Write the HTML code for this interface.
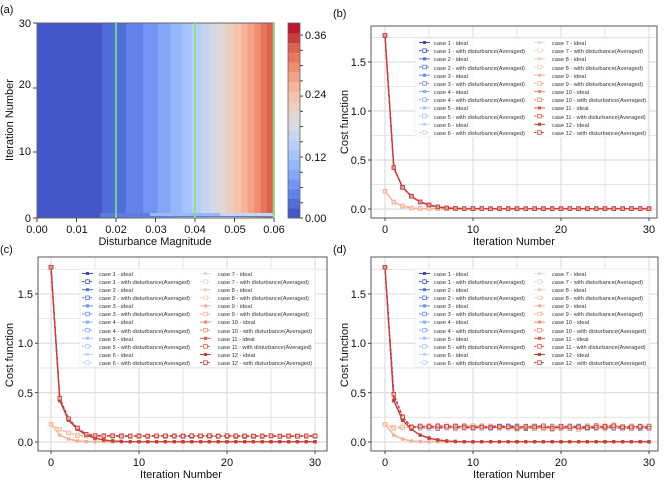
<!DOCTYPE html>
<html><head><meta charset="utf-8">
<style>
html,body{margin:0;padding:0;background:#fff;}
svg{display:block;font-family:"Liberation Sans",Arial,sans-serif;}
.t{font-size:11px;fill:#111;}
.lg{font-size:5.7px;fill:#333;}
</style></head>
<body>
<svg id="s" width="664" height="484" viewBox="0 0 664 484" xmlns="http://www.w3.org/2000/svg">
<g id="heat"></g>
<g id="plots"></g>
<!-- panel a text -->
<text class="t" x="0" y="13" font-size="12">(a)</text>
<text class="t" x="31" y="27" text-anchor="end">30</text>
<text class="t" x="31" y="88" text-anchor="end">20</text>
<text class="t" x="31" y="155" text-anchor="end">10</text>
<text class="t" x="31" y="222" text-anchor="end">0</text>
<text class="t" x="37" y="233" text-anchor="middle">0.00</text>
<text class="t" x="77" y="233" text-anchor="middle">0.01</text>
<text class="t" x="116" y="233" text-anchor="middle">0.02</text>
<text class="t" x="156" y="233" text-anchor="middle">0.03</text>
<text class="t" x="195" y="233" text-anchor="middle">0.04</text>
<text class="t" x="235" y="233" text-anchor="middle">0.05</text>
<text class="t" x="274" y="233" text-anchor="middle">0.06</text>
<text class="t" x="155" y="245" text-anchor="middle">Disturbance Magnitude</text>
<text class="t" x="13" y="120" text-anchor="middle" transform="rotate(-90 13 120)">Iteration Number</text>
<text class="t" x="305" y="39">0.36</text>
<text class="t" x="305" y="98">0.24</text>
<text class="t" x="305" y="161">0.12</text>
<text class="t" x="305" y="222">0.00</text>
<!-- panel b text -->
<text class="t" x="333" y="17" font-size="12">(b)</text>
<text class="t" x="366" y="66" text-anchor="end">1.5</text>
<text class="t" x="366" y="115" text-anchor="end">1.0</text>
<text class="t" x="366" y="164" text-anchor="end">0.5</text>
<text class="t" x="366" y="213" text-anchor="end">0.0</text>
<text class="t" x="385" y="233" text-anchor="middle">0</text>
<text class="t" x="473" y="233" text-anchor="middle">10</text>
<text class="t" x="561" y="233" text-anchor="middle">20</text>
<text class="t" x="649" y="233" text-anchor="middle">30</text>
<text class="t" x="514" y="245" text-anchor="middle">Iteration Number</text>
<text class="t" x="348" y="122" text-anchor="middle" transform="rotate(-90 348 122)">Cost function</text>
<!-- panel c text -->
<text class="t" x="0" y="253" font-size="12">(c)</text>
<text class="t" x="33" y="298" text-anchor="end">1.5</text>
<text class="t" x="33" y="347" text-anchor="end">1.0</text>
<text class="t" x="33" y="397" text-anchor="end">0.5</text>
<text class="t" x="33" y="446" text-anchor="end">0.0</text>
<text class="t" x="51" y="466" text-anchor="middle">0</text>
<text class="t" x="139" y="466" text-anchor="middle">10</text>
<text class="t" x="227" y="466" text-anchor="middle">20</text>
<text class="t" x="315" y="466" text-anchor="middle">30</text>
<text class="t" x="181" y="478" text-anchor="middle">Iteration Number</text>
<text class="t" x="13" y="355" text-anchor="middle" transform="rotate(-90 13 355)">Cost function</text>
<!-- panel d text -->
<text class="t" x="333" y="253" font-size="12">(d)</text>
<text class="t" x="366" y="298" text-anchor="end">1.5</text>
<text class="t" x="366" y="347" text-anchor="end">1.0</text>
<text class="t" x="366" y="397" text-anchor="end">0.5</text>
<text class="t" x="366" y="446" text-anchor="end">0.0</text>
<text class="t" x="385" y="466" text-anchor="middle">0</text>
<text class="t" x="473" y="466" text-anchor="middle">10</text>
<text class="t" x="561" y="466" text-anchor="middle">20</text>
<text class="t" x="649" y="466" text-anchor="middle">30</text>
<text class="t" x="514" y="478" text-anchor="middle">Iteration Number</text>
<text class="t" x="348" y="355" text-anchor="middle" transform="rotate(-90 348 355)">Cost function</text>

<!-- legend b -->
<g id="legb">
<rect x="415" y="38" width="233" height="99" fill="#fff" fill-opacity="0.85" stroke="#e6e6e6" stroke-width="0.5"/>
<text class="lg" x="434" y="45">case 1 - ideal</text>
<text class="lg" x="434" y="53">case 1 - with disturbance(Averaged)</text>
<text class="lg" x="434" y="61">case 2 - ideal</text>
<text class="lg" x="434" y="70">case 2 - with disturbance(Averaged)</text>
<text class="lg" x="434" y="78">case 3 - ideal</text>
<text class="lg" x="434" y="86">case 3 - with disturbance(Averaged)</text>
<text class="lg" x="434" y="94">case 4 - ideal</text>
<text class="lg" x="434" y="102">case 4 - with disturbance(Averaged)</text>
<text class="lg" x="434" y="110">case 5 - ideal</text>
<text class="lg" x="434" y="119">case 5 - with disturbance(Averaged)</text>
<text class="lg" x="434" y="127">case 6 - ideal</text>
<text class="lg" x="434" y="135">case 6 - with disturbance(Averaged)</text>
<text class="lg" x="552" y="45">case 7 - ideal</text>
<text class="lg" x="552" y="53">case 7 - with disturbance(Averaged)</text>
<text class="lg" x="552" y="61">case 8 - ideal</text>
<text class="lg" x="552" y="70">case 8 - with disturbance(Averaged)</text>
<text class="lg" x="552" y="78">case 9 - ideal</text>
<text class="lg" x="552" y="86">case 9 - with disturbance(Averaged)</text>
<text class="lg" x="552" y="94">case 10 - ideal</text>
<text class="lg" x="552" y="102">case 10 - with disturbance(Averaged)</text>
<text class="lg" x="552" y="110">case 11 - ideal</text>
<text class="lg" x="552" y="119">case 11 - with disturbance(Averaged)</text>
<text class="lg" x="552" y="127">case 12 - ideal</text>
<text class="lg" x="552" y="135">case 12 - with disturbance(Averaged)</text>
</g>
<!-- legend c -->
<g id="legc">
<rect x="80" y="269" width="235" height="98" fill="#fff" fill-opacity="0.85" stroke="#e6e6e6" stroke-width="0.5"/>
<text class="lg" x="99" y="276">case 1 - ideal</text>
<text class="lg" x="99" y="284">case 1 - with disturbance(Averaged)</text>
<text class="lg" x="99" y="292">case 2 - ideal</text>
<text class="lg" x="99" y="300">case 2 - with disturbance(Averaged)</text>
<text class="lg" x="99" y="308">case 3 - ideal</text>
<text class="lg" x="99" y="316">case 3 - with disturbance(Averaged)</text>
<text class="lg" x="99" y="324">case 4 - ideal</text>
<text class="lg" x="99" y="333">case 4 - with disturbance(Averaged)</text>
<text class="lg" x="99" y="341">case 5 - ideal</text>
<text class="lg" x="99" y="349">case 5 - with disturbance(Averaged)</text>
<text class="lg" x="99" y="357">case 6 - ideal</text>
<text class="lg" x="99" y="365">case 6 - with disturbance(Averaged)</text>
<text class="lg" x="218" y="276">case 7 - ideal</text>
<text class="lg" x="218" y="284">case 7 - with disturbance(Averaged)</text>
<text class="lg" x="218" y="292">case 8 - ideal</text>
<text class="lg" x="218" y="300">case 8 - with disturbance(Averaged)</text>
<text class="lg" x="218" y="308">case 9 - ideal</text>
<text class="lg" x="218" y="316">case 9 - with disturbance(Averaged)</text>
<text class="lg" x="218" y="324">case 10 - ideal</text>
<text class="lg" x="218" y="333">case 10 - with disturbance(Averaged)</text>
<text class="lg" x="218" y="341">case 11 - ideal</text>
<text class="lg" x="218" y="349">case 11 - with disturbance(Averaged)</text>
<text class="lg" x="218" y="357">case 12 - ideal</text>
<text class="lg" x="218" y="365">case 12 - with disturbance(Averaged)</text>
</g>
<!-- legend d -->
<g id="legd">
<rect x="415" y="269" width="234" height="98" fill="#fff" fill-opacity="0.85" stroke="#e6e6e6" stroke-width="0.5"/>
<text class="lg" x="434" y="276">case 1 - ideal</text>
<text class="lg" x="434" y="284">case 1 - with disturbance(Averaged)</text>
<text class="lg" x="434" y="292">case 2 - ideal</text>
<text class="lg" x="434" y="300">case 2 - with disturbance(Averaged)</text>
<text class="lg" x="434" y="308">case 3 - ideal</text>
<text class="lg" x="434" y="316">case 3 - with disturbance(Averaged)</text>
<text class="lg" x="434" y="324">case 4 - ideal</text>
<text class="lg" x="434" y="333">case 4 - with disturbance(Averaged)</text>
<text class="lg" x="434" y="341">case 5 - ideal</text>
<text class="lg" x="434" y="349">case 5 - with disturbance(Averaged)</text>
<text class="lg" x="434" y="357">case 6 - ideal</text>
<text class="lg" x="434" y="365">case 6 - with disturbance(Averaged)</text>
<text class="lg" x="552" y="276">case 7 - ideal</text>
<text class="lg" x="552" y="284">case 7 - with disturbance(Averaged)</text>
<text class="lg" x="552" y="292">case 8 - ideal</text>
<text class="lg" x="552" y="300">case 8 - with disturbance(Averaged)</text>
<text class="lg" x="552" y="308">case 9 - ideal</text>
<text class="lg" x="552" y="316">case 9 - with disturbance(Averaged)</text>
<text class="lg" x="552" y="324">case 10 - ideal</text>
<text class="lg" x="552" y="333">case 10 - with disturbance(Averaged)</text>
<text class="lg" x="552" y="341">case 11 - ideal</text>
<text class="lg" x="552" y="349">case 11 - with disturbance(Averaged)</text>
<text class="lg" x="552" y="357">case 12 - ideal</text>
<text class="lg" x="552" y="365">case 12 - with disturbance(Averaged)</text>
</g>
<g id="legmk"></g>
</svg>
<script>
(function(){
var NS="http://www.w3.org/2000/svg";
function el(p,n,a){var e=document.createElementNS(NS,n);for(var k in a)e.setAttribute(k,a[k]);p.appendChild(e);return e;}
var cw=[[59,76,192],[98,130,234],[141,176,254],[184,208,249],[221,221,221],[245,196,173],[244,154,123],[222,96,77],[180,4,38]];
function cmap(t){t=Math.max(0,Math.min(1,t));var f=t*(cw.length-1),i=Math.floor(f);if(i>=cw.length-1)i=cw.length-2;var r=f-i,a=cw[i],b=cw[i+1];
return "rgb("+Math.round(a[0]+(b[0]-a[0])*r)+","+Math.round(a[1]+(b[1]-a[1])*r)+","+Math.round(a[2]+(b[2]-a[2])*r)+")";}
var H=document.getElementById("heat");
var NL=20,vmax=0.384;
var x0=37,x1=274,y0=23,y1=218;
for(var i=0;i<NL;i++){
 var lo=i*vmax/NL,hi=(i+1)*vmax/NL;
 var xa=0.06*Math.pow(lo/0.35,1/2.25),xb=0.06*Math.pow(hi/0.35,1/2.25);
 if(xa>=0.06)break;xb=Math.min(xb,0.06);
 var pa=x0+xa/0.06*(x1-x0),pb=x0+xb/0.06*(x1-x0);
 el(H,"rect",{x:pa,y:y0,width:pb-pa+0.6,height:y1-y0,fill:cmap((i+0.5)/NL)});
}
el(H,"rect",{x:100,y:213,width:174,height:4,fill:"#5b7de0"});
el(H,"rect",{x:150,y:213,width:124,height:3,fill:"#9ab9fb"});
el(H,"rect",{x:220,y:213,width:54,height:3,fill:"#c6d6f3"});
el(H,"rect",{x:x0,y:y0,width:x1-x0,height:y1-y0,fill:"none",stroke:"#666","stroke-width":1});
[116,195,273.5].forEach(function(x){el(H,"line",{x1:x,y1:y0,x2:x,y2:y1,stroke:"#7ce87c","stroke-width":1.6});});
[[23,30],[88,20],[152,10],[218,0]].forEach(function(p){el(H,"line",{x1:33,y1:p[0],x2:37,y2:p[0],stroke:"#444"});});
for(var k=0;k<=6;k++){var x=x0+k*(x1-x0)/6;el(H,"line",{x1:x,y1:218,x2:x,y2:222,stroke:"#444"});}
for(var i=0;i<NL;i++){var h=(218-23)/NL;el(H,"rect",{x:288,y:218-(i+1)*h,width:12,height:h+0.5,fill:cmap((i+0.5)/NL)});}
el(H,"rect",{x:288,y:23,width:12,height:195,fill:"none",stroke:"#666","stroke-width":0.8});
for(var v=0;v<=0.37;v+=0.03){var y=218-v*508;el(H,"line",{x1:300,y1:y,x2:303,y2:y,stroke:"#444"});}

var P=document.getElementById("plots");
var cols=["#3b4cc0","#516ddb","#6b8df0","#88abfd","#a5c3fe","#c0d4f5","#dddcdc","#f2cbb7","#f7af91","#f08b6e","#dc5d4a","#cc3b35"];
var seed=7;function rnd(){seed=(seed*16807)%2147483647;return seed/2147483647;}
var high=[1.77,0.42,0.22,0.13,0.07,0.04,0.02,0.01,0.005];
var low=[0.18,0.07,0.03,0.01,0.004];
function ideal(c,i){var arr=(c>=7&&c<=9)?low:high;return i<arr.length?arr[i]:0.002;}
var panels=[
 {fx:371,fy:26,fw:286,fh:192,X0:385,X30:649,Y0:209,k:98,mode:0},
 {fx:38,fy:257,fw:289,fh:194,X0:51,X30:315,Y0:442,k:98.7,mode:1},
 {fx:371,fy:257,fw:287,fh:194,X0:385,X30:649,Y0:442,k:98.7,mode:2}];
panels.forEach(function(p){
 var g=el(P,"g",{});
 var sx=(p.X30-p.X0)/30;
 for(var t=0;t<=30;t+=5){var x=p.X0+t*sx;el(g,"line",{x1:x,y1:p.fy,x2:x,y2:p.fy+p.fh,stroke:"#dedede","stroke-width":t%10==0?1.2:0.8});}
 for(var v=0;v<=1.75;v+=0.25){var y=p.Y0-v*p.k;el(g,"line",{x1:p.fx,y1:y,x2:p.fx+p.fw,y2:y,stroke:"#dedede","stroke-width":(v*2)%1==0?1.2:0.8});}
 el(g,"rect",{x:p.fx,y:p.fy,width:p.fw,height:p.fh,fill:"none",stroke:"#555","stroke-width":1});
 for(var t=0;t<=30;t+=10){var x=p.X0+t*sx;el(g,"line",{x1:x,y1:p.fy+p.fh,x2:x,y2:p.fy+p.fh+3,stroke:"#444"});}
 for(var v=0;v<=1.5;v+=0.5){var y=p.Y0-v*p.k;el(g,"line",{x1:p.fx-3,y1:y,x2:p.fx,y2:y,stroke:"#444"});}
 for(var c=1;c<=12;c++){
  var col=cols[c-1];
  var id=[],ds=[];
  for(var i=0;i<=30;i++){
   var iv=ideal(c,i);id.push(iv);
   var dv;
   if(p.mode==0)dv=iv+0.003*rnd();
   else if(p.mode==1){var pl=0.06+0.01*(rnd()-0.5);dv=Math.max(iv,pl)+(i<8&&i>0?0.03*Math.exp(-i/3):0);if(c>=7&&c<=9&&i>0)dv=Math.max(pl,0.18*Math.exp(-i/3));}
   else{var pl=0.15+0.03*(rnd()-0.5);dv=Math.max(i==0?iv:iv*1.15,pl);if(c>=7&&c<=9)dv=i==0?iv:pl+0.03*(rnd()-0.5);}
   ds.push(dv);
  }
  [[id,false],[ds,true]].forEach(function(s){
   var pts=s[0].map(function(v,i){return (p.X0+i*sx).toFixed(1)+","+(p.Y0-v*p.k).toFixed(1);}).join(" ");
   var a={points:pts,fill:"none",stroke:col,"stroke-width":1.2};if(s[1])a["stroke-dasharray"]="3,1.5";
   el(g,"polyline",a);
   s[0].forEach(function(v,i){var x=p.X0+i*sx,y=p.Y0-v*p.k;
    if(s[1])el(g,"rect",{x:x-1.8,y:y-1.8,width:3.6,height:3.6,fill:"#fff","fill-opacity":0.5,stroke:col,"stroke-width":0.8});
    else el(g,"rect",{x:x-1.6,y:y-1.6,width:3.2,height:3.2,fill:col});});
  });
 }
});
var L=document.getElementById("legmk");
[[419,40,8.18],[82,271,8.1],[419,271,8.1]].forEach(function(q,pi){
 var cx2=pi==1?200:534;
 for(var c=1;c<=12;c++){
  var colx=c<=6?q[0]:cx2, r=((c-1)%6)*2;
  var col=cols[c-1];
  for(var j=0;j<2;j++){
   var y=q[1]+(r+j)*q[2]+2.5;
   var a={x1:colx,y1:y,x2:colx+11,y2:y,stroke:col,"stroke-width":1};if(j)a["stroke-dasharray"]="2.5,1.2";
   el(L,"line",a);
   if(j)el(L,"rect",{x:colx+3.7,y:y-1.8,width:3.6,height:3.6,fill:"#fff",stroke:col,"stroke-width":0.8});
   else el(L,"rect",{x:colx+4,y:y-1.5,width:3,height:3,fill:col});
  }
 }
});
})();
</script>
</body></html>
